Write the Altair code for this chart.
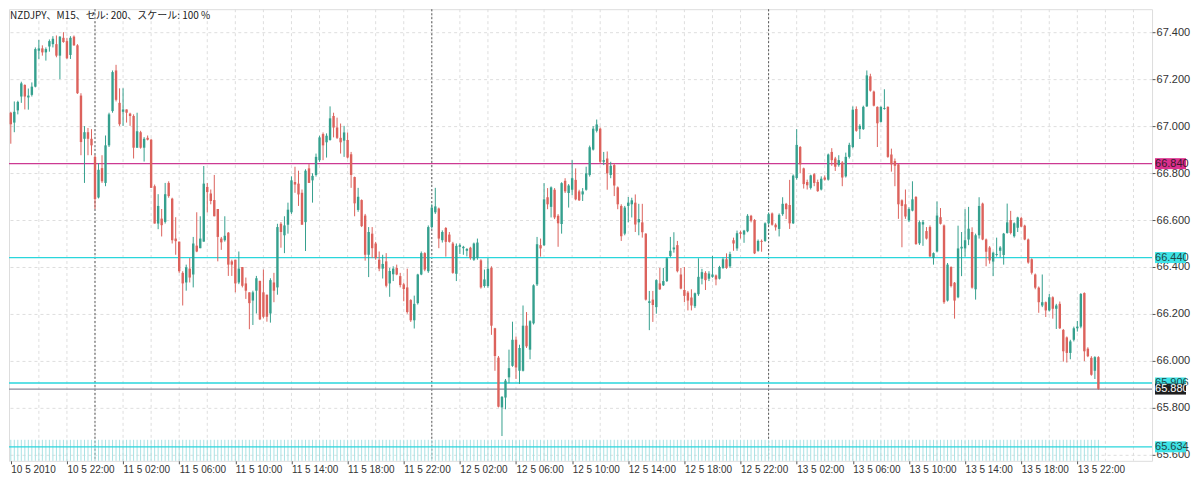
import json
import altair as alt
import pandas as pd

TITLE = "NZDJPY、M15、セル: 200、スケール: 100 %"

OPEN = [
67.057, 67.015, 67.067, 67.126, 67.175, 67.122, 67.133, 67.168, 67.321, 67.331,
67.314, 67.339, 67.349, 67.349, 67.300, 67.376, 67.362, 67.303, 67.381, 67.344,
67.130, 66.946, 66.974, 66.946, 66.869, 66.696, 66.821, 66.758, 66.918, 67.064,
67.237, 67.099, 67.061, 67.071, 67.053, 67.043, 66.908, 66.974, 66.908, 66.950,
66.942, 66.744, 66.585, 66.606, 66.592, 66.758, 66.691, 66.521, 66.508, 66.375,
66.334, 66.393, 66.368, 66.491, 66.480, 66.508, 66.741, 66.713, 66.685, 66.647,
66.521, 66.514, 66.546, 66.424, 66.431, 66.334, 66.400, 66.330, 66.292, 66.257,
66.299, 66.341, 66.292, 66.282, 66.202, 66.334, 66.313, 66.584, 66.535, 66.580,
66.633, 66.762, 66.755, 66.716, 66.591, 66.820, 66.769, 66.792, 66.855, 66.966,
66.931, 66.941, 67.043, 66.994, 66.950, 66.938, 66.941, 66.880, 66.783, 66.643,
66.685, 66.619, 66.452, 66.542, 66.500, 66.431, 66.393, 66.424, 66.330, 66.369,
66.396, 66.361, 66.326, 66.313, 66.259, 66.173, 66.246, 66.368, 66.459, 66.382,
66.570, 66.633, 66.649, 66.514, 66.566, 66.538, 66.500, 66.371, 66.486, 66.480,
66.469, 66.482, 66.431, 66.438, 66.428, 66.319, 66.319, 66.396, 66.139, 66.014,
65.802, 65.844, 65.930, 65.979, 66.090, 65.958, 65.958, 66.150, 66.048, 66.160,
66.326, 66.493, 66.493, 66.697, 66.656, 66.729, 66.618, 66.583, 66.767, 66.715,
66.729, 66.771, 66.722, 66.709, 66.729, 66.792, 66.900, 66.980, 66.989, 66.848,
66.862, 66.792, 66.834, 66.739, 66.660, 66.542, 66.660, 66.667, 66.674, 66.590,
66.590, 66.542, 66.247, 66.261, 66.229, 66.330, 66.322, 66.340, 66.447, 66.475,
66.493, 66.368, 66.302, 66.291, 66.270, 66.233, 66.284, 66.350, 66.375, 66.350,
66.358, 66.364, 66.350, 66.396, 66.433, 66.403, 66.514, 66.479, 66.548, 66.538,
66.552, 66.618, 66.600, 66.469, 66.511, 66.511, 66.586, 66.628, 66.580, 66.562,
66.625, 66.669, 66.664, 66.586, 66.779, 66.911, 66.820, 66.762, 66.737, 66.795,
66.762, 66.730, 66.781, 66.772, 66.890, 66.862, 66.834, 66.845, 66.786, 66.869,
66.911, 67.073, 66.987, 66.987, 67.084, 67.212, 67.147, 67.082, 67.018, 67.073,
67.082, 66.879, 66.851, 66.837, 66.684, 66.667, 66.598, 66.640, 66.698, 66.501,
66.581, 66.553, 66.570, 66.438, 66.466, 66.612, 66.577, 66.257, 66.400, 66.333,
66.271, 66.479, 66.479, 66.517, 66.549, 66.305, 66.535, 66.670, 66.517, 66.483,
66.423, 66.451, 66.469, 66.451, 66.545, 66.600, 66.531, 66.567, 66.608, 66.576,
66.517, 66.433, 66.368, 66.312, 66.236, 66.250, 66.215, 66.271, 66.222, 66.243,
66.132, 66.100, 66.034, 66.090, 66.139, 66.146, 66.289, 66.052, 66.013, 65.958,
66.016,
]

HIGH = [
67.061, 67.105, 67.108, 67.189, 67.178, 67.160, 67.186, 67.335, 67.367, 67.344,
67.335, 67.369, 67.383, 67.386, 67.383, 67.400, 67.376, 67.383, 67.386, 67.349,
67.140, 67.000, 66.992, 66.987, 66.876, 66.842, 66.876, 66.960, 67.057, 67.237,
67.261, 67.161, 67.161, 67.071, 67.057, 67.050, 67.057, 66.980, 66.953, 66.960,
66.946, 66.751, 66.710, 66.647, 66.758, 66.765, 66.695, 66.612, 66.508, 66.382,
66.410, 66.438, 66.528, 66.633, 66.616, 66.830, 66.758, 66.730, 66.792, 66.647,
66.528, 66.616, 66.549, 66.431, 66.431, 66.466, 66.400, 66.355, 66.292, 66.299,
66.362, 66.341, 66.389, 66.282, 66.352, 66.375, 66.584, 66.591, 66.616, 66.674,
66.786, 66.827, 66.810, 66.730, 66.816, 66.838, 66.799, 66.883, 66.959, 66.973,
66.969, 67.084, 67.057, 67.036, 67.011, 67.001, 66.973, 66.890, 66.785, 66.737,
66.688, 66.626, 66.570, 66.570, 66.507, 66.466, 66.452, 66.459, 66.396, 66.403,
66.410, 66.375, 66.333, 66.393, 66.263, 66.278, 66.371, 66.466, 66.463, 66.577,
66.667, 66.737, 66.653, 66.556, 66.570, 66.549, 66.507, 66.500, 66.500, 66.490,
66.480, 66.486, 66.504, 66.521, 66.433, 66.389, 66.438, 66.403, 66.141, 66.021,
65.850, 65.923, 66.048, 66.167, 66.104, 66.069, 66.236, 66.208, 66.173, 66.326,
66.528, 66.521, 66.757, 66.736, 66.743, 66.736, 66.625, 66.761, 66.778, 66.753,
66.855, 66.820, 66.729, 66.736, 66.827, 66.917, 67.000, 67.028, 66.994, 66.890,
66.892, 66.848, 66.841, 66.743, 66.667, 66.660, 66.698, 66.695, 66.709, 66.669,
66.669, 66.544, 66.298, 66.298, 66.347, 66.396, 66.396, 66.441, 66.528, 66.548,
66.511, 66.396, 66.400, 66.298, 66.305, 66.291, 66.437, 66.392, 66.382, 66.382,
66.447, 66.368, 66.405, 66.441, 66.458, 66.465, 66.525, 66.555, 66.555, 66.558,
66.625, 66.622, 66.604, 66.517, 66.517, 66.590, 66.632, 66.632, 66.586, 66.628,
66.697, 66.673, 66.771, 66.794, 66.987, 66.915, 66.823, 66.772, 66.793, 66.800,
66.772, 66.786, 66.790, 66.883, 66.906, 66.869, 66.876, 66.851, 66.887, 66.929,
67.084, 67.084, 67.008, 67.087, 67.237, 67.223, 67.151, 67.084, 67.084, 67.157,
67.084, 66.904, 66.862, 66.841, 66.688, 66.730, 66.654, 66.765, 66.702, 66.598,
66.600, 66.570, 66.577, 66.462, 66.679, 66.651, 66.581, 66.417, 66.403, 66.336,
66.576, 66.549, 66.646, 66.656, 66.569, 66.542, 66.697, 66.674, 66.521, 66.489,
66.465, 66.525, 66.489, 66.545, 66.670, 66.639, 66.590, 66.614, 66.614, 66.580,
66.521, 66.437, 66.372, 66.317, 66.368, 66.253, 66.285, 66.275, 66.243, 66.253,
66.136, 66.104, 66.090, 66.146, 66.170, 66.289, 66.292, 66.058, 66.020, 66.020,
66.020,
]

LOW = [
66.925, 66.974, 67.050, 67.099, 67.071, 67.070, 67.126, 67.165, 67.286, 67.300,
67.279, 67.317, 67.335, 67.293, 67.200, 67.355, 67.286, 67.286, 67.342, 67.137,
66.876, 66.758, 66.876, 66.876, 66.647, 66.692, 66.758, 66.744, 66.911, 67.057,
67.105, 67.001, 67.001, 67.015, 67.001, 66.862, 66.908, 66.904, 66.849, 66.939,
66.737, 66.585, 66.561, 66.530, 66.585, 66.695, 66.500, 66.452, 66.375, 66.236,
66.299, 66.334, 66.313, 66.463, 66.480, 66.508, 66.632, 66.667, 66.616, 66.424,
66.473, 66.508, 66.362, 66.362, 66.292, 66.327, 66.313, 66.264, 66.135, 66.153,
66.202, 66.174, 66.181, 66.167, 66.163, 66.250, 66.282, 66.482, 66.459, 66.542,
66.626, 66.716, 66.660, 66.580, 66.468, 66.758, 66.674, 66.785, 66.848, 66.855,
66.866, 66.938, 66.952, 66.945, 66.883, 66.869, 66.862, 66.737, 66.616, 66.635,
66.570, 66.427, 66.357, 66.438, 66.431, 66.382, 66.351, 66.313, 66.273, 66.340,
66.365, 66.313, 66.254, 66.201, 66.166, 66.138, 66.240, 66.365, 66.382, 66.375,
66.563, 66.626, 66.480, 66.504, 66.444, 66.504, 66.371, 66.340, 66.455, 66.452,
66.445, 66.431, 66.426, 66.431, 66.308, 66.312, 66.312, 66.111, 65.958, 65.802,
65.680, 65.794, 65.905, 65.975, 65.923, 65.902, 65.955, 66.055, 66.007, 66.155,
66.319, 66.444, 66.489, 66.646, 66.611, 66.604, 66.486, 66.542, 66.715, 66.653,
66.706, 66.684, 66.681, 66.681, 66.725, 66.785, 66.896, 66.973, 66.841, 66.834,
66.729, 66.778, 66.702, 66.646, 66.511, 66.535, 66.590, 66.611, 66.549, 66.535,
66.525, 66.257, 66.131, 66.166, 66.201, 66.302, 66.319, 66.336, 66.441, 66.461,
66.377, 66.305, 66.250, 66.215, 66.215, 66.225, 66.277, 66.326, 66.302, 66.340,
66.354, 66.322, 66.347, 66.392, 66.392, 66.396, 66.469, 66.469, 66.521, 66.503,
66.548, 66.590, 66.455, 66.465, 66.465, 66.507, 66.580, 66.576, 66.555, 66.530,
66.618, 66.604, 66.562, 66.583, 66.772, 66.799, 66.734, 66.730, 66.730, 66.744,
66.720, 66.726, 66.768, 66.768, 66.831, 66.809, 66.827, 66.744, 66.781, 66.862,
66.906, 66.976, 66.945, 66.984, 67.082, 67.147, 67.084, 66.911, 67.015, 67.070,
66.865, 66.806, 66.744, 66.605, 66.484, 66.605, 66.591, 66.637, 66.494, 66.494,
66.490, 66.517, 66.442, 66.410, 66.462, 66.581, 66.243, 66.253, 66.313, 66.180,
66.267, 66.361, 66.444, 66.493, 66.308, 66.261, 66.521, 66.514, 66.403, 66.414,
66.361, 66.444, 66.441, 66.410, 66.542, 66.539, 66.525, 66.549, 66.570, 66.514,
66.414, 66.368, 66.305, 66.205, 66.229, 66.187, 66.211, 66.180, 66.136, 66.136,
65.997, 65.993, 66.007, 66.083, 66.125, 66.139, 65.999, 66.016, 65.937, 65.923,
65.877,
]

CLOSE = [
67.008, 67.061, 67.103, 67.182, 67.126, 67.130, 67.168, 67.328, 67.331, 67.314,
67.328, 67.362, 67.372, 67.300, 67.381, 67.358, 67.289, 67.376, 67.344, 67.140,
66.932, 66.974, 66.946, 66.918, 66.689, 66.814, 66.765, 66.918, 67.050, 67.230,
67.112, 67.008, 67.071, 67.057, 67.043, 66.908, 66.978, 66.908, 66.946, 66.942,
66.737, 66.585, 66.660, 66.578, 66.710, 66.702, 66.514, 66.510, 66.382, 66.330,
66.399, 66.355, 66.500, 66.466, 66.521, 66.755, 66.719, 66.681, 66.616, 66.528,
66.505, 66.533, 66.410, 66.410, 66.330, 66.393, 66.320, 66.299, 66.246, 66.292,
66.352, 66.177, 66.188, 66.188, 66.344, 66.299, 66.570, 66.549, 66.577, 66.644,
66.769, 66.751, 66.709, 66.580, 66.810, 66.758, 66.788, 66.869, 66.952, 66.918,
66.959, 67.033, 66.994, 66.950, 66.931, 66.973, 66.866, 66.792, 66.671, 66.699,
66.574, 66.452, 66.549, 66.480, 66.438, 66.393, 66.413, 66.320, 66.383, 66.393,
66.368, 66.323, 66.306, 66.208, 66.173, 66.243, 66.368, 66.459, 66.389, 66.570,
66.653, 66.658, 66.521, 66.549, 66.507, 66.507, 66.375, 66.490, 66.493, 66.486,
66.477, 66.438, 66.500, 66.504, 66.313, 66.347, 66.392, 66.150, 66.021, 65.805,
65.847, 65.916, 65.969, 66.090, 65.972, 66.055, 66.150, 66.062, 66.169, 66.322,
66.497, 66.479, 66.688, 66.667, 66.739, 66.611, 66.586, 66.757, 66.722, 66.747,
66.778, 66.688, 66.684, 66.722, 66.799, 66.910, 66.989, 67.007, 66.848, 66.855,
66.799, 66.831, 66.747, 66.667, 66.531, 66.653, 66.674, 66.684, 66.581, 66.604,
66.548, 66.261, 66.254, 66.238, 66.344, 66.305, 66.340, 66.437, 66.469, 66.483,
66.382, 66.308, 66.277, 66.257, 66.236, 66.288, 66.358, 66.378, 66.344, 66.372,
66.368, 66.347, 66.400, 66.433, 66.396, 66.455, 66.500, 66.544, 66.541, 66.555,
66.618, 66.597, 66.458, 66.511, 66.507, 66.586, 66.625, 66.580, 66.569, 66.622,
66.669, 66.646, 66.586, 66.789, 66.920, 66.837, 66.753, 66.748, 66.790, 66.758,
66.723, 66.776, 66.772, 66.879, 66.855, 66.827, 66.855, 66.781, 66.869, 66.920,
67.070, 66.980, 67.001, 67.082, 67.216, 67.151, 67.087, 67.012, 67.082, 67.077,
66.869, 66.837, 66.831, 66.667, 66.660, 66.615, 66.647, 66.688, 66.498, 66.591,
66.591, 66.521, 66.445, 66.459, 66.619, 66.584, 66.250, 66.410, 66.319, 66.257,
66.479, 66.486, 66.514, 66.563, 66.312, 66.535, 66.660, 66.517, 66.465, 66.428,
66.461, 66.455, 66.483, 66.542, 66.590, 66.545, 66.586, 66.611, 66.572, 66.517,
66.419, 66.375, 66.312, 66.250, 66.250, 66.215, 66.271, 66.222, 66.236, 66.139,
66.041, 66.034, 66.083, 66.139, 66.146, 66.285, 66.041, 66.020, 65.941, 66.016,
65.881,
]

# time-axis labels (every 16 bars of M15)
LABEL_BARS = [0, 16, 32, 48, 64, 80, 96, 112, 128, 144, 160, 176, 192, 208, 224, 240, 256, 272, 288, 304]
LABEL_TEXTS = ["10 5 2010", "10 5 22:00", "11 5 02:00", "11 5 06:00", "11 5 10:00", "11 5 14:00",
               "11 5 18:00", "11 5 22:00", "12 5 02:00", "12 5 06:00", "12 5 10:00", "12 5 14:00",
               "12 5 18:00", "12 5 22:00", "13 5 02:00", "13 5 06:00", "13 5 10:00", "13 5 14:00",
               "13 5 18:00", "13 5 22:00"]
GRID_BARS = [8, 16, 24, 32, 40, 48, 56, 64, 72, 80, 88, 96, 104, 112, 120, 128, 136, 144, 152, 160,
             168, 176, 184, 192, 200, 208, 216, 224, 232, 240, 248, 256, 264, 272, 280, 288, 296,
             304, 312, 320]
DAY_SEP_BARS = [24, 120, 216]

Y_TICKS = [65.6, 65.8, 66.0, 66.2, 66.4, 66.6, 66.8, 67.0, 67.2, 67.4]

LEVELS = [66.840, 66.440, 65.906, 65.880, 65.634]
LEVEL_TEXT = ["66.840", "66.440", "65.906", "65.880", "65.634"]
LEVEL_LINE = ["#cc3a92", "#2ad6dc", "#2ad6dc", "#8a8a9a", "#2ad6dc"]
LEVEL_BG = ["#dc2f8e", "#3ee3e6", "#3ee3e6", "#1e1e1e", "#3ee3e6"]
LEVEL_FG = ["#3a1a2a", "#1f4848", "#1f4848", "#ffffff", "#1f4848"]

STRIP_TOP = 65.664

W, H = 1144, 452
X_DOMAIN = [-0.513, 325.29]
Y_DOMAIN = [65.5745, 67.4979]

UP = "#35a08e"
DOWN = "#dc625c"
FONT = "Liberation Sans"

n = min(len(OPEN), len(HIGH), len(LOW), len(CLOSE))
bars = pd.DataFrame({
    "bar": list(range(n)),
    "open": OPEN[:n], "high": HIGH[:n], "low": LOW[:n], "close": CLOSE[:n],
})
bars["dir"] = ["up" if c >= o else "down" for o, c in zip(bars["open"], bars["close"])]
bars["stop"] = STRIP_TOP
bars["sbot"] = Y_DOMAIN[0]

xs = alt.Scale(domain=X_DOMAIN, nice=False, zero=False, padding=0)
ys = alt.Scale(domain=Y_DOMAIN, nice=False, zero=False, padding=0)

label_map = {str(b): t for b, t in zip(LABEL_BARS, LABEL_TEXTS)}
x_axis = alt.Axis(values=LABEL_BARS, labelExpr=json.dumps(label_map, ensure_ascii=False) + "[datum.value]",
                  title=None, grid=False, domain=False, tickSize=3, tickColor="#555555",
                  labelAlign="left", labelFontSize=10, labelFont=FONT, labelColor="#333333",
                  labelOverlap=False, labelFlush=False, labelBound=False, labelPadding=1)
y_axis = alt.Axis(orient="right", values=Y_TICKS, format=".3f", title=None, grid=True,
                  gridDash=[3, 3], gridColor="#dedede", domain=False, tickSize=3,
                  tickColor="#555555", labelFontSize=11, labelFont=FONT, labelColor="#333333",
                  labelPadding=1)

color_scale = alt.Scale(domain=["up", "down"], range=[UP, DOWN])

grid_df = pd.DataFrame({"bar": GRID_BARS})
sep_df = pd.DataFrame({"bar": DAY_SEP_BARS})
lvl_df = pd.DataFrame({"price": LEVELS, "txt": LEVEL_TEXT, "line": LEVEL_LINE,
                       "bg": LEVEL_BG, "fg": LEVEL_FG})
title_df = pd.DataFrame({"t": [TITLE]})

vgrid = alt.Chart(grid_df).mark_rule(color="#dedede", strokeDash=[3, 3], strokeWidth=1).encode(
    x=alt.X("bar:Q", scale=xs, axis=x_axis))
seps = alt.Chart(sep_df).mark_rule(color="#555555", strokeDash=[2, 2], strokeWidth=1).encode(
    x=alt.X("bar:Q", scale=xs, axis=x_axis))
strip = alt.Chart(bars).mark_rule(color="#a9e2e4", strokeWidth=1).encode(
    x=alt.X("bar:Q", scale=xs, axis=x_axis),
    y=alt.Y("stop:Q", scale=ys, axis=y_axis), y2="sbot:Q")
lines = alt.Chart(lvl_df).mark_rule(strokeWidth=1.3).encode(
    y=alt.Y("price:Q", scale=ys, axis=y_axis), color=alt.Color("line:N", scale=None))
wicks = alt.Chart(bars).mark_rule(strokeWidth=1).encode(
    x=alt.X("bar:Q", scale=xs, axis=x_axis),
    y=alt.Y("low:Q", scale=ys, axis=y_axis), y2="high:Q",
    color=alt.Color("dir:N", scale=color_scale, legend=None))
bodies = alt.Chart(bars).mark_bar(size=2.4).encode(
    x=alt.X("bar:Q", scale=xs, axis=x_axis),
    y=alt.Y("open:Q", scale=ys, axis=y_axis), y2="close:Q",
    color=alt.Color("dir:N", scale=color_scale, legend=None))
tag_bg = alt.Chart(lvl_df).mark_rule(strokeWidth=11).encode(
    x=alt.value(W + 3), x2=alt.value(W + 34),
    y=alt.Y("price:Q", scale=ys, axis=y_axis), color=alt.Color("bg:N", scale=None))
tag_tx = alt.Chart(lvl_df).mark_text(align="left", baseline="middle", fontSize=11, font=FONT).encode(
    x=alt.value(W + 3), y=alt.Y("price:Q", scale=ys, axis=y_axis), text="txt:N",
    color=alt.Color("fg:N", scale=None))
title = alt.Chart(title_df).mark_text(align="left", baseline="middle", fontSize=10,
                                      font="Noto Sans CJK JP", color="#222222").encode(
    x=alt.value(1), y=alt.value(7), text="t:N")

chart = alt.layer(vgrid, seps, strip, lines, wicks, bodies, tag_bg, tag_tx, title).properties(
    width=W, height=H, padding=0
).configure_view(stroke="#5a5a5a", strokeWidth=1).configure(background="white")

chart.save("out.html", embed_options={"renderer": "svg", "actions": False})
